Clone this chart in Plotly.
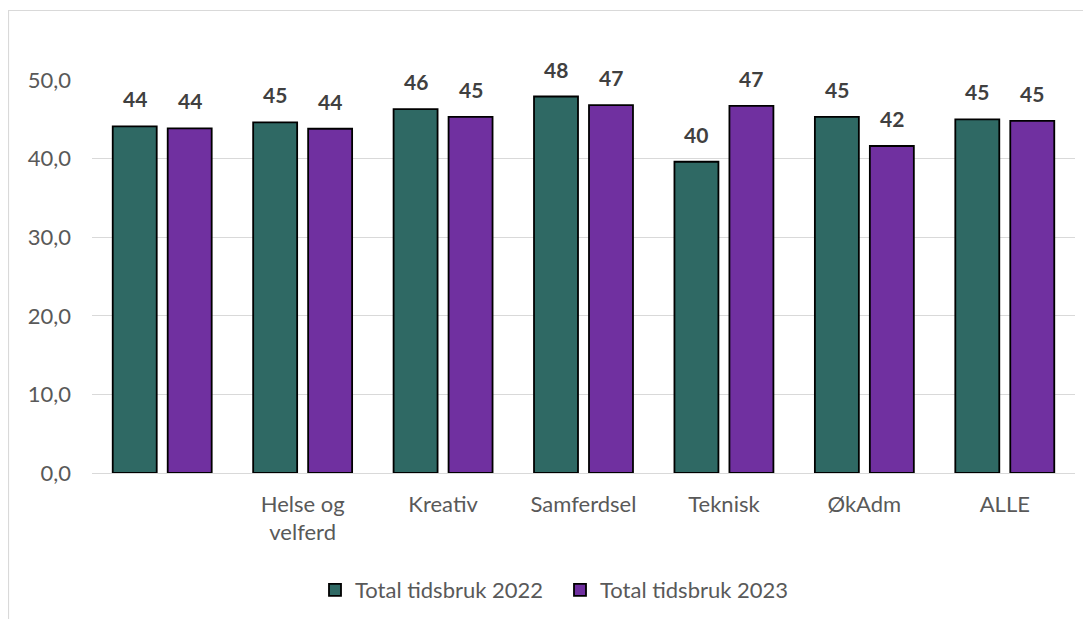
import plotly.graph_objects as go

categories = ["", "Helse og<br>velferd", "Kreativ", "Samferdsel", "Teknisk", "ØkAdm", "ALLE"]
values_2022 = [44.1, 44.6, 46.3, 47.9, 39.6, 45.3, 45.0]
values_2023 = [43.85, 43.8, 45.3, 46.8, 46.7, 41.6, 44.8]
series_names = ["Total tidsbruk 2022", "Total tidsbruk 2023"]
y_ticks = [0, 10, 20, 30, 40, 50]
y_tick_labels = ["0,0", "10,0", "20,0", "30,0", "40,0", "50,0"]

colors = ["#2F6964", "#7030A0"]
FONT = "Lato"
xpos = list(range(len(categories)))

fig = go.Figure()
for name, vals, col in zip(series_names, [values_2022, values_2023], colors):
    fig.add_trace(go.Bar(
        x=xpos, y=vals, name=name,
        marker=dict(color=col, line=dict(color="#000000", width=1.8)),
    ))

# data labels
for vals, shift in [(values_2022, -27.5), (values_2023, 27.5)]:
    for x, v in zip(xpos, vals):
        fig.add_annotation(x=x, y=v, xshift=shift, yshift=13, text="<b>%d</b>" % round(v),
                           showarrow=False, font=dict(family=FONT, size=21, color="#404040"),
                           yanchor="bottom")

L, R, T, B = 84, 24, 72, 154
W, H = 1091, 619
pw, ph = W - L - R, H - T - B
def px_x(px):
    return (px - L) / pw
def px_y(py):
    return (H - B - py) / ph

fig.add_shape(type="path", xref="paper", yref="paper",
              path="M %f %f L %f %f L %f %f" % (px_x(0.5), px_y(640), px_x(0.5), px_y(2.5), px_x(1120), px_y(2.5)),
              line=dict(color="#D9D9D9", width=1.2))

fig.update_layout(
    width=W, height=H,
    margin=dict(l=L, r=R, t=T, b=B),
    paper_bgcolor="white", plot_bgcolor="white",
    barmode="group", bargap=0.217, bargroupgap=0.2,
    font=dict(family=FONT, size=22, color="#595959"),
    showlegend=True,
    legend=dict(orientation="h", x=px_x(307), xanchor="left", y=px_y(582), yanchor="middle",
                font=dict(family=FONT, size=22, color="#595959"),
                entrywidth=200, entrywidthmode="pixels",
                traceorder="normal"),
    xaxis=dict(tickmode="array", tickvals=xpos, ticktext=categories, range=[-0.5, 6.5],
               showgrid=False, showline=True, linecolor="#D9D9D9", linewidth=1.3,
               ticks="", ticklabelstandoff=11,
               tickfont=dict(family=FONT, size=22, color="#595959")),
    yaxis=dict(range=[0, 50], tickmode="array", tickvals=y_ticks, ticktext=y_tick_labels,
               showgrid=True, gridcolor="#D9D9D9", gridwidth=1.3, zeroline=False,
               showline=False, ticks="", ticklabelstandoff=20,
               tickfont=dict(family=FONT, size=22, color="#595959")),
)

fig.write_html("out.html")
